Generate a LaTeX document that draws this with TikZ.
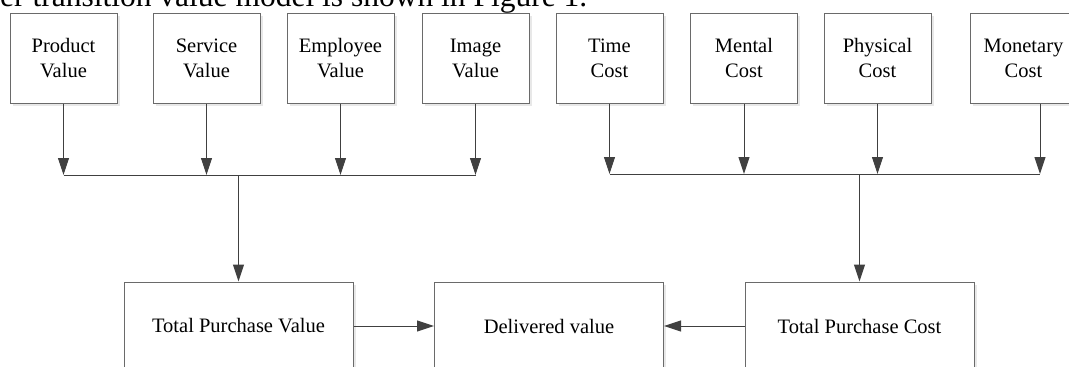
\documentclass[tikz,border=0pt]{standalone}
\usepackage{fontspec}
\setmainfont{Liberation Serif}
\usetikzlibrary{positioning,arrows.meta,shadows,math}
\definecolor{boxline}{HTML}{6A6A6A}
\definecolor{flowline}{HTML}{404040}
\tikzset{
    itembox/.style={draw=boxline, fill=white, line width=1pt,
        minimum width=107pt, minimum height=90pt, inner sep=0pt, align=center,
        font=\fontsize{20.5}{25}\selectfont,
        drop shadow={shadow xshift=2.5pt, shadow yshift=-2.5pt, fill=black!9, opacity=1}},
    sumbox/.style={itembox, minimum width=229pt, minimum height=88pt},
    flow/.style={->, draw=flowline, fill=flowline, line width=1pt},
    rail/.style={draw=flowline, line width=1pt},
}

\begin{document}
\begin{tikzpicture}[
    >={Triangle[length=17pt,width=11pt]},
    x=1pt, y=-1pt,
  ]

  \useasboundingbox (0,0) rectangle (1069,367);

  \tikzmath{
    \toprow = 58;  % centre line of the upper boxes
    \lrail  = 175; % height of the left joining line
    \rrail  = 174; % height of the right joining line
    \botrow = 326; % centre line of the lower boxes
  }

  \coordinate (lrail) at (0,\lrail);
  \coordinate (rrail) at (0,\rrail);
  \coordinate (monex) at (1040,0); % the monetary arrow is off centre

  % text line of the page, cut off above the picture
  \node[anchor=base west, inner sep=0pt, font=\fontsize{31.5}{36}\selectfont] (caption)
    at (0,6) {er transition value model is shown in Figure 1.};

  % -----------
  % Value boxes
  % -----------

  \node[itembox] (prod) at ( 63.5,\toprow) {Product\\Value};
  \node[itembox] (serv) at (206.5,\toprow) {Service\\Value};
  \node[itembox] (empl) at (340.5,\toprow) {Employee\\Value};
  \node[itembox] (imag) at (475.5,\toprow) {Image\\Value};

  % ----------
  % Cost boxes
  % ----------

  \node[itembox] (time) at ( 609.5,\toprow) {Time\\Cost};
  \node[itembox] (ment) at ( 744.0,\toprow) {Mental\\Cost};
  \node[itembox] (phys) at ( 877.5,\toprow) {Physical\\Cost};
  \node[itembox] (mone) at (1023.5,\toprow) {Monetary\\Cost};

  % -----------
  % Lower boxes
  % -----------

  \node[sumbox] (tpv) at (238.5,\botrow) {Total Purchase Value};
  \node[sumbox] (dlv) at (549.0,\botrow) {Delivered value};
  \node[sumbox] (tpc) at (859.5,\botrow) {Total Purchase Cost};

  % Arrows onto the left joining line
  \draw[flow] (prod.south) -- (prod.south |- lrail);
  \draw[flow] (serv.south) -- (serv.south |- lrail);
  \draw[flow] (empl.south) -- (empl.south |- lrail);
  \draw[flow] (imag.south) -- (imag.south |- lrail);
  \draw[rail] (prod.south |- lrail) -- (imag.south |- lrail);
  \draw[flow] (tpv.north |- lrail) -- (tpv.north);

  % Arrows onto the right joining line
  \draw[flow] (time.south) -- (time.south |- rrail);
  \draw[flow] (ment.south) -- (ment.south |- rrail);
  \draw[flow] (phys.south) -- (phys.south |- rrail);
  \draw[flow] (mone.south -| monex) -- (monex |- rrail);
  \draw[rail] (time.south |- rrail) -- (monex |- rrail);
  \draw[flow] (tpc.north |- rrail) -- (tpc.north);

  % Both totals into the delivered value
  \draw[flow] (tpv.east) -- (dlv.west);
  \draw[flow] (tpc.west) -- (dlv.east);

\end{tikzpicture}
\end{document}
